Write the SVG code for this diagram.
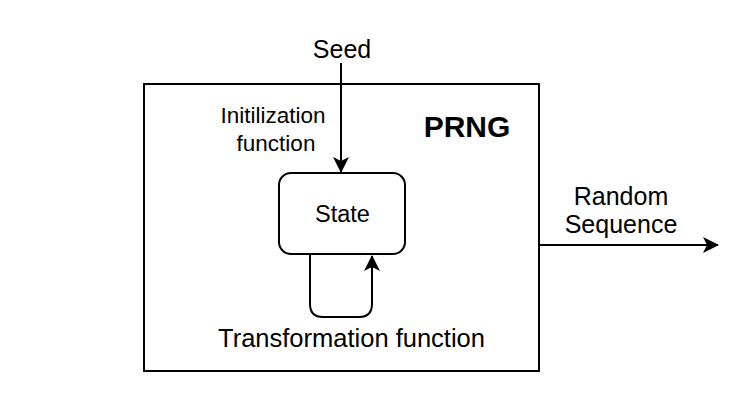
<svg xmlns="http://www.w3.org/2000/svg" width="734" height="417" viewBox="0 0 734 417">
<style>
text{font-family:"Liberation Sans",Arial,sans-serif;fill:#000;text-anchor:middle}
.box{fill:#fff;stroke:#000;stroke-width:2}
.ln{fill:none;stroke:#000;stroke-width:2}
</style>
<defs>
<marker id="ah" viewBox="0 0 16 16" markerWidth="16" markerHeight="16" refX="15" refY="8" orient="auto" markerUnits="userSpaceOnUse">
<path d="M0,0 L16,8 L0,16 L4,8 Z" fill="#000"/>
</marker>
</defs>
<rect width="734" height="417" fill="#fff"/>
<g id="prng">
<rect class="box" x="144" y="84" width="395" height="287"/>
<text x="467" y="137" font-size="30" font-weight="bold">PRNG</text>
</g>
<g id="state">
<rect class="box" x="279" y="173" width="126" height="81" rx="12" ry="12"/>
<text x="342.5" y="222" font-size="23.5">State</text>
</g>
<g id="connectors">
<path class="ln" d="M341,63 L341,172" marker-end="url(#ah)"/>
<path class="ln" d="M310,254 L310,304 Q310,317 323,317 L359,317 Q372,317 372,304 L372,256" marker-end="url(#ah)"/>
<path class="ln" d="M539,245 L718,245" marker-end="url(#ah)"/>
</g>
<g id="labels">
<text x="342" y="58" font-size="25">Seed</text>
<text x="273" y="123" font-size="22.5">Initilization</text>
<text x="276" y="151" font-size="22.5">function</text>
<text x="351.5" y="347" font-size="25.5">Transformation function</text>
<text x="621" y="205" font-size="25">Random</text>
<text x="621" y="233" font-size="25">Sequence</text>
</g>
</svg>
